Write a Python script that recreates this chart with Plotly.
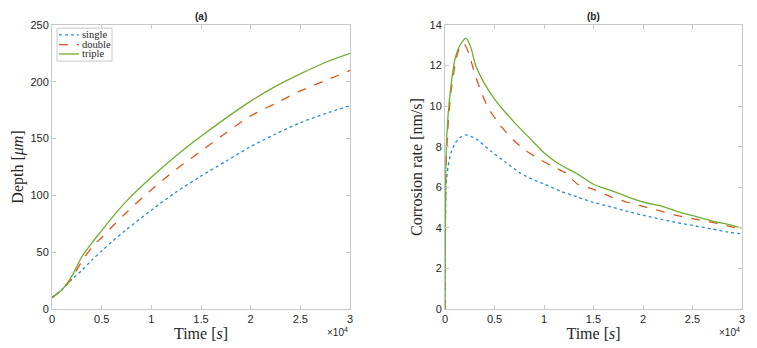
import plotly.graph_objects as go

# depth data (panel a), time in seconds
t_depth = [0, 1000, 2000, 3000, 4000, 5000, 6000, 7500, 10000, 12500, 15000, 17500, 20000, 22500, 25000, 27500, 30000]
depth_single = [10, 17, 26, 34, 43, 51, 59, 70, 87, 103, 117, 130, 143, 154, 164, 172, 179]
depth_double = [10, 17, 27, 42, 54, 63, 72, 85, 105, 123, 139, 155, 170, 181, 192, 201, 210]
depth_triple = [10, 17, 29, 46, 58, 69, 80, 95, 116, 135, 152, 168, 183, 196, 207, 217, 225]

# corrosion rate data (panel b)
t_rate_single = [0, 100, 300, 600, 1000, 1500, 2100, 3100, 4600, 6200, 7600, 8800, 10000, 11700, 13400,
                 15000, 16800, 18500, 20200, 22000, 23500, 25000, 26900, 28500, 30000]
rate_single = [0, 6.0, 7.0, 7.7, 8.15, 8.45, 8.58, 8.4, 7.8, 7.2, 6.7, 6.4, 6.16, 5.8, 5.52,
               5.25, 5.03, 4.8, 4.6, 4.4, 4.25, 4.12, 3.95, 3.8, 3.7]
t_rate_double = [0, 100, 300, 600, 1000, 1400, 1900, 2400, 3000, 3500, 4300, 5500, 6900, 8200, 9700, 11000,
                 12200, 13400, 15000, 16800, 18500, 20200, 22000, 23500, 25000, 26900, 28500, 30000]
rate_double = [0, 7.0, 9.0, 10.7, 12.0, 12.8, 13.1, 12.6, 11.6, 10.9, 9.97, 9.1, 8.33, 7.8, 7.34, 7.0,
               6.7, 6.15, 5.9, 5.52, 5.25, 5.03, 4.8, 4.6, 4.45, 4.28, 4.1, 3.92]
t_rate_triple = [0, 100, 300, 600, 1000, 1500, 2100, 2600, 3100, 4000, 5000, 6000, 7000, 8600, 10000, 11500,
                 13400, 15000, 17000, 18500, 20200, 22000, 23500, 25000, 26900, 28500, 30000]
rate_triple = [0, 7.5, 9.5, 11.0, 12.3, 13.0, 13.35, 12.9, 12.0, 11.1, 10.35, 9.75, 9.2, 8.4, 7.7, 7.15,
               6.65, 6.15, 5.8, 5.52, 5.25, 5.05, 4.8, 4.6, 4.35, 4.18, 3.99]

names = ["single", "double", "triple"]
colors = ["#2a8bd6", "#e0541e", "#72ad2f"]
dashes = ["dot", "dash", "solid"]

fig = go.Figure()
for name, y, c, d in zip(names, [depth_single, depth_double, depth_triple], colors, dashes):
    fig.add_trace(go.Scatter(x=t_depth, y=y, mode="lines", name=name,
                             line=dict(color=c, dash=d, width=1.3, shape="spline", smoothing=0.8),
                             xaxis="x", yaxis="y"))
for name, xs, y, c, d in zip(names, [t_rate_single, t_rate_double, t_rate_triple],
                             [rate_single, rate_double, rate_triple], colors, dashes):
    fig.add_trace(go.Scatter(x=xs, y=y, mode="lines", name=name,
                             line=dict(color=c, dash=d, width=1.3, shape="spline", smoothing=0.6),
                             xaxis="x2", yaxis="y2"))

tick_vals = [0, 5000, 10000, 15000, 20000, 25000, 30000]
tick_text = ["0", "0.5", "1", "1.5", "2", "2.5", "3"]
axis_common = dict(showgrid=False, zeroline=False, showline=True, linecolor="#c8c8c8", linewidth=1,
                   mirror="ticks", ticks="inside", ticklen=4, tickcolor="#c8c8c8", automargin=False,
                   tickfont=dict(family="Liberation Sans", size=11, color="#262626"))
serif = dict(family="Liberation Serif", size=16, color="#262626")
sans = dict(family="Liberation Sans", size=10, color="#262626")

L, R = 0.4319, 0.5696  # panel split in paper coords

fig.update_layout(
    width=757, height=348,
    margin=dict(l=52, r=15, t=25, b=39),
    plot_bgcolor="white", paper_bgcolor="white",
    showlegend=False,
    xaxis=dict(domain=[0, L], range=[0, 30000], tickvals=tick_vals, ticktext=tick_text,
               title=dict(text="Time [<i>s</i>]", font=serif, standoff=0), anchor="y", **axis_common),
    yaxis=dict(domain=[0, 1], range=[0, 250], dtick=50,
               title=dict(text="Depth [<i>μm</i>]", font=serif, standoff=2), anchor="x", **axis_common),
    xaxis2=dict(domain=[R, 1], range=[0, 30000], tickvals=tick_vals, ticktext=tick_text,
                title=dict(text="Time [<i>s</i>]", font=serif, standoff=0), anchor="y2", **axis_common),
    yaxis2=dict(domain=[0, 1], range=[0, 14], dtick=2,
                title=dict(text="Corrosion rate [nm/s]", font=serif, standoff=2), anchor="x2", **axis_common),
)

annotations = [
    dict(text="<b>(a)</b>", x=L / 2, y=1, yshift=1, xref="paper", yref="paper",
         xanchor="center", yanchor="bottom", showarrow=False, font=sans),
    dict(text="<b>(b)</b>", x=(R + 1) / 2, y=1, yshift=1, xref="paper", yref="paper",
         xanchor="center", yanchor="bottom", showarrow=False, font=sans),
    dict(text="×10<sup>4</sup>", x=L, y=-0.082, xref="paper", yref="paper",
         xanchor="right", yanchor="middle", showarrow=False, font=sans),
    dict(text="×10<sup>4</sup>", x=1, y=-0.082, xref="paper", yref="paper",
         xanchor="right", yanchor="middle", showarrow=False, font=sans),
]

# hand-drawn legend box in the MATLAB style
shapes = [dict(type="rect", xref="paper", yref="paper", x0=0.00725, x1=0.087, y0=0.873, y1=0.989,
               line=dict(color="#c8c8c8", width=1), fillcolor="white", layer="above")]
leg_y = [0.965, 0.931, 0.898]
for name, c, d, yy in zip(names, colors, dashes, leg_y):
    shapes.append(dict(type="line", xref="paper", yref="paper", x0=0.0101, x1=0.0391, y0=yy, y1=yy,
                       line=dict(color=c, dash=d, width=1.3), layer="above"))
    annotations.append(dict(text=name, x=0.0406, y=yy, xref="paper", yref="paper", xanchor="left",
                            yanchor="middle", showarrow=False,
                            font=dict(family="Liberation Serif", size=10.5, color="#262626")))

fig.update_layout(annotations=annotations, shapes=shapes)

# drop the browser's default body margin so the figure sits at the page origin
fig.write_html("out.html", config={"displayModeBar": False},
               post_script="document.body.style.margin='0px';")
